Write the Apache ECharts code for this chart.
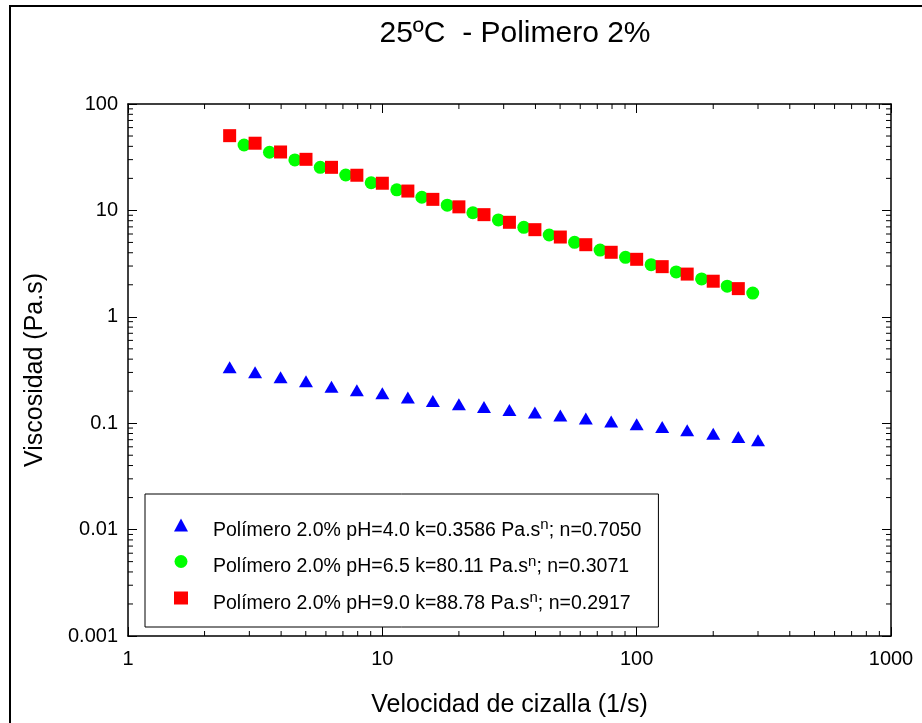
<!DOCTYPE html>
<html><head><meta charset="utf-8">
<script src="https://cdn.jsdelivr.net/npm/echarts@6/dist/echarts.min.js"></script>
<style>html,body{margin:0;padding:0;background:#fff}#c{width:922px;height:723px}</style>
</head><body><div id="c"></div>
<script>
const FONT = "'Liberation Sans', Arial, Helvetica, sans-serif";
const titleText = '25ºC  - Polimero 2%';
const xName = 'Velocidad de cizalla (1/s)';
const yName = 'Viscosidad (Pa.s)';

// Data (shear rate 1/s, viscosity Pa.s)
const blueX = [2.51, 3.16, 3.98, 5.01, 6.31, 7.94, 10, 12.6, 15.8, 20, 25.1, 31.6, 39.8, 50.1, 63.1, 79.4, 100, 126, 158, 200, 251, 300];
const blueY = [0.335, 0.301, 0.270, 0.248, 0.220, 0.204, 0.191, 0.174, 0.162, 0.151, 0.142, 0.133, 0.126, 0.118, 0.111, 0.104, 0.0977, 0.0921, 0.0858, 0.0797, 0.0741, 0.0690];
const greenX = [2.86, 3.60, 4.53, 5.70, 7.18, 9.04, 11.4, 14.3, 18.0, 22.7, 28.6, 36.0, 45.3, 57.0, 71.8, 90.4, 114, 143, 180, 227, 286];
const greenY = [41.2, 35.2, 29.8, 25.4, 21.5, 18.2, 15.6, 13.3, 11.2, 9.51, 8.13, 6.94, 5.87, 5.01, 4.24, 3.62, 3.09, 2.64, 2.27, 1.94, 1.67];
const redX = [2.51, 3.16, 3.98, 5.01, 6.31, 7.94, 10, 12.6, 15.8, 20, 25.1, 31.6, 39.8, 50.1, 63.1, 79.4, 100, 126, 158, 200, 251];
const redY = [50.4, 42.8, 35.4, 30.2, 25.4, 21.4, 18.0, 15.2, 12.7, 10.8, 9.12, 7.73, 6.59, 5.62, 4.76, 4.04, 3.47, 2.96, 2.52, 2.16, 1.84];

const legendMain = ['Polímero 2.0% pH=4.0 k=0.3586 Pa.s', 'Polímero 2.0% pH=6.5 k=80.11 Pa.s', 'Polímero 2.0% pH=9.0 k=88.78 Pa.s'];
const legendSup = ['n', 'n', 'n'];
const legendTail = ['; n=0.7050', '; n=0.3071', '; n=0.2917'];
const seriesNames = legendMain.map((m, i) => m + legendSup[i] + legendTail[i]);

// Axis ranges and tick labels
const X_MIN = 1, X_MAX = 1000, Y_MIN = 0.001, Y_MAX = 100;
const xTickLabels = ['1', '10', '100', '1000'];
const yTickLabels = ['0.001', '0.01', '0.1', '1', '10', '100'];
const xMinorTicks = [2,3,4,5,6,7,8,9,20,30,40,50,60,70,80,90,200,300,400,500,600,700,800,900];
const yMinorTicks = [0.002,0.003,0.004,0.005,0.006,0.007,0.008,0.009,0.02,0.03,0.04,0.05,0.06,0.07,0.08,0.09,0.2,0.3,0.4,0.5,0.6,0.7,0.8,0.9,2,3,4,5,6,7,8,9,20,30,40,50,60,70,80,90];

const MAJOR = 9, MINOR = 5;

function zip(a, b) { return a.map((v, i) => [v, b[i]]); }

function minorTickSeries(values, isX) {
  return {
    type: 'custom', silent: true, z: 5, clip: false,
    xAxisIndex: 0, yAxisIndex: 0,
    data: values.map(v => isX ? [v, 1] : [10, v]),
    renderItem: function (params, api) {
      const st = { stroke: '#000', lineWidth: 1 };
      if (isX) {
        const b = api.coord([api.value(0), Y_MIN]);
        const t = api.coord([api.value(0), Y_MAX]);
        return { type: 'group', children: [
          { type: 'line', shape: { x1: b[0], y1: b[1], x2: b[0], y2: b[1] - MINOR }, style: st },
          { type: 'line', shape: { x1: t[0], y1: t[1], x2: t[0], y2: t[1] + MINOR }, style: st }
        ]};
      } else {
        const l = api.coord([X_MIN, api.value(1)]);
        const r = api.coord([X_MAX, api.value(1)]);
        return { type: 'group', children: [
          { type: 'line', shape: { x1: l[0], y1: l[1], x2: l[0] + MINOR, y2: l[1] }, style: st },
          { type: 'line', shape: { x1: r[0], y1: r[1], x2: r[0] - MINOR, y2: r[1] }, style: st }
        ]};
      }
    }
  };
}

const axisLineStyle = { show: true, lineStyle: { color: '#000', width: 1.5 } };
const tickStyle = { show: true, inside: true, length: MAJOR, lineStyle: { color: '#000', width: 1 } };

const chart = echarts.init(document.getElementById('c'), null, { renderer: 'canvas' });
chart.setOption({
  backgroundColor: '#fff',
  animation: false,
  title: {
    text: titleText, left: 515, top: 19, padding: 0, textAlign: 'center',
    textStyle: { fontFamily: FONT, fontSize: 30, fontWeight: 'normal', color: '#000' }
  },
  graphic: [{
    type: 'rect', silent: true, z: -10,
    shape: { x: 10, y: 6, width: 1000, height: 1000 },
    style: { fill: 'none', stroke: '#000', lineWidth: 2 }
  }],
  grid: { left: 128, right: 31, top: 104, bottom: 87, containLabel: false },
  legend: {
    orient: 'vertical', left: 145, top: 494,
    padding: [23.5, 17, 13.5, 29], itemGap: 13.5,
    itemWidth: 14, itemHeight: 13,
    borderColor: '#000', borderWidth: 1, backgroundColor: '#fff',
    data: seriesNames,
    formatter: function (name) {
      const i = seriesNames.indexOf(name);
      return '{a|' + legendMain[i] + '}{s|' + legendSup[i] + '}{a|' + legendTail[i] + '}';
    },
    textStyle: {
      padding: [0, 0, 0, 20],
      rich: {
        a: { fontFamily: FONT, fontSize: 19.5, color: '#000', lineHeight: 20, verticalAlign: 'bottom' },
        s: { fontFamily: FONT, fontSize: 15, color: '#000', lineHeight: 31 }
      }
    }
  },
  xAxis: [{
    type: 'log', logBase: 10, min: X_MIN, max: X_MAX, position: 'bottom',
    name: xName, nameLocation: 'middle', nameGap: 57,
    nameTextStyle: { fontFamily: FONT, fontSize: 25, color: '#000' },
    axisLine: axisLineStyle, axisTick: tickStyle, splitLine: { show: false },
    axisLabel: { fontFamily: FONT, fontSize: 20, color: '#000', margin: 13,
      formatter: v => xTickLabels[Math.round(Math.log10(v))] }
  }, {
    type: 'log', logBase: 10, min: X_MIN, max: X_MAX, position: 'top',
    axisLine: axisLineStyle, axisTick: tickStyle, splitLine: { show: false },
    axisLabel: { show: false }
  }],
  yAxis: [{
    type: 'log', logBase: 10, min: Y_MIN, max: Y_MAX, position: 'left',
    name: yName, nameLocation: 'middle', nameGap: 80,
    nameTextStyle: { fontFamily: FONT, fontSize: 25, color: '#000' },
    axisLine: axisLineStyle, axisTick: tickStyle, splitLine: { show: false },
    axisLabel: { fontFamily: FONT, fontSize: 20, color: '#000', margin: 10,
      formatter: v => yTickLabels[Math.round(Math.log10(v)) + 3] }
  }, {
    type: 'log', logBase: 10, min: Y_MIN, max: Y_MAX, position: 'right',
    axisLine: axisLineStyle, axisTick: tickStyle, splitLine: { show: false },
    axisLabel: { show: false }
  }],
  series: [
    { name: seriesNames[0], type: 'scatter', symbol: 'triangle', symbolSize: [14, 12],
      itemStyle: { color: '#0000ff', opacity: 1 }, data: zip(blueX, blueY), z: 3 },
    { name: seriesNames[1], type: 'scatter', symbol: 'circle', symbolSize: 13,
      itemStyle: { color: '#00ff00', opacity: 1 }, data: zip(greenX, greenY), z: 3 },
    { name: seriesNames[2], type: 'scatter', symbol: 'rect', symbolSize: 13,
      itemStyle: { color: '#ff0000', opacity: 1 }, data: zip(redX, redY), z: 3 },
    minorTickSeries(xMinorTicks, true),
    minorTickSeries(yMinorTicks, false)
  ]
});
</script>
</body></html>
